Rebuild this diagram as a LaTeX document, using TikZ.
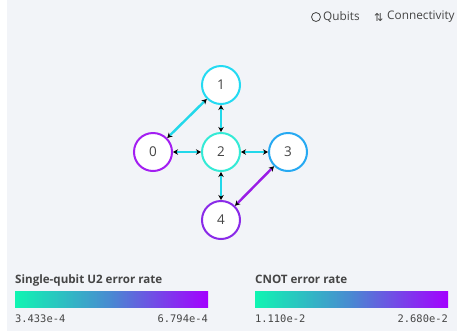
\documentclass[tikz,border=0pt]{standalone}
\usepackage{fontspec}
\setmainfont{Open Sans}
\setmonofont{DejaVu Sans Mono}
\newfontfamily\symfont{DejaVu Sans}
\usetikzlibrary{arrows.meta}

\definecolor{bggray}{HTML}{F2F4F8}
\definecolor{txtgray}{HTML}{454545}
\definecolor{lowc}{HTML}{10F5B2}
\definecolor{midc}{HTML}{4A88D2}
\definecolor{highc}{HTML}{A400FF}
\definecolor{qcol0}{HTML}{A31EF2}
\definecolor{qcol1}{HTML}{24DAF2}
\definecolor{qcol2}{HTML}{34EAD6}
\definecolor{qcol3}{HTML}{26A9F2}
\definecolor{qcol4}{HTML}{8A2AE8}
\definecolor{linkc}{HTML}{22D8EA}
\definecolor{linkp}{HTML}{9A1CE6}

\tikzset{
  qubit/.style={circle, draw, fill=white, line width=2pt, minimum size=38pt,
    inner sep=0pt, text=txtgray, font=\fontsize{13.5}{15}\selectfont},
  legtitle/.style={anchor=base west, inner sep=0pt, text=txtgray,
    font=\fontsize{11.6}{13}\selectfont\bfseries},
  legnum/.style={inner sep=0pt, text=txtgray, font=\ttfamily\fontsize{10.4}{12}\selectfont},
  toplabel/.style={anchor=west, inner sep=0pt, text=txtgray, font=\fontsize{11.8}{13}\selectfont}
}

\begin{document}
\begin{tikzpicture}[x=1pt, y=-1pt]
\useasboundingbox[fill=white] (0,0) rectangle (457,333);
\fill[bggray] (7,0) rectangle (457,331);

% top right switches
\draw[txtgray, line width=0.8pt] (316,17) circle (4.5);
\node[toplabel] (qlab) at (323,17) {Qubits};
\node[toplabel, font=\symfont\fontsize{11}{13}\selectfont] (carrow) at (374,17) {⇅};
\node[toplabel] (clab) at (387,17) {Connectivity};

% qubits
\begin{scope}
    \node[qubit, draw=qcol0] (q0) at (153,152) {0};
    \node[qubit, draw=qcol1] (q1) at (221,85) {1};
    \node[qubit, draw=qcol2] (q2) at (221,152) {2};
    \node[qubit, draw=qcol3] (q3) at (288,152) {3};
    \node[qubit, draw=qcol4] (q4) at (221,220) {4};
\end{scope}

% couplings
\begin{scope}[>={Stealth[black, length=5pt, width=5.5pt]},
              every edge/.style={draw=linkc, line width=2.4pt}]
    \path [<->] (q0) edge (q1);
    \path [<->] (q1) edge (q2);
    \path [<->] (q0) edge (q2);
    \path [<->] (q2) edge (q3);
    \path [<->] (q2) edge (q4);
    \path [<->] (q3) edge [draw=linkp] (q4);
\end{scope}

% legends
\node[legtitle] (utitle) at (15,283) {Single-qubit U2 error rate};
\shade[left color=lowc, right color=highc, middle color=midc] (15,291) rectangle (208,307);
\node[legnum, anchor=base west] (umin) at (15,322) {3.433e-4};
\node[legnum, anchor=base east] (umax) at (208,322) {6.794e-4};

\node[legtitle] (ctitle) at (255,283) {CNOT error rate};
\shade[left color=lowc, right color=highc, middle color=midc] (255,291) rectangle (448,307);
\node[legnum, anchor=base west] (cmin) at (255,322) {1.110e-2};
\node[legnum, anchor=base east] (cmax) at (448,322) {2.680e-2};
\end{tikzpicture}
\end{document}
